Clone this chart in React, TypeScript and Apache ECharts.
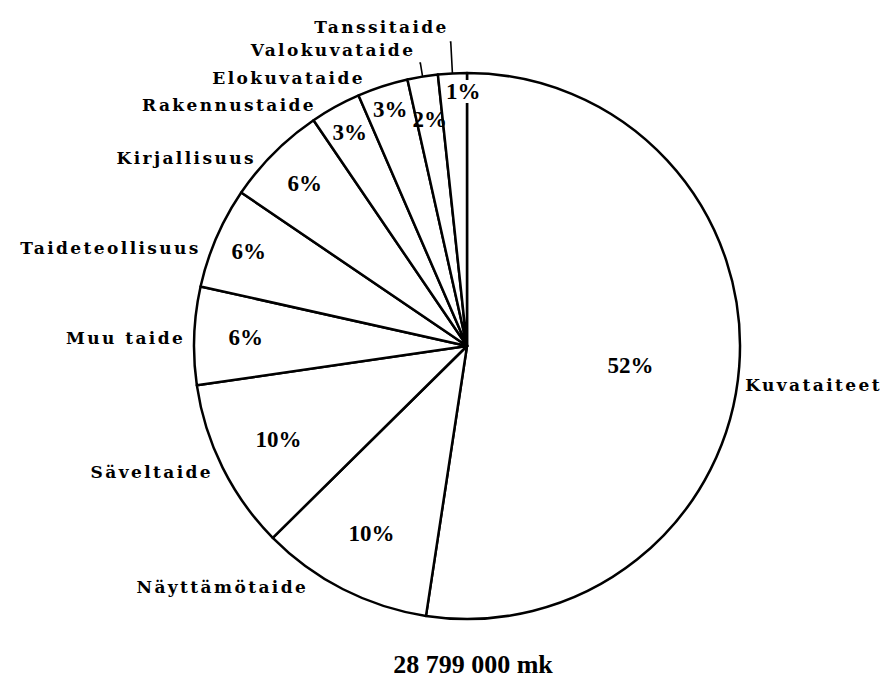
import React, { useEffect, useRef } from "react";
import * as echarts from "echarts";

// ---- data ----
const categories = [
  "Kuvataiteet",
  "Näyttämötaide",
  "Säveltaide",
  "Muu taide",
  "Taideteollisuus",
  "Kirjallisuus",
  "Rakennustaide",
  "Elokuvataide",
  "Valokuvataide",
  "Tanssitaide",
];
const shares = [52.4, 10.2, 10.1, 5.8, 6.0, 6.0, 3.0, 3.0, 1.8, 1.7];
const percentLabels = ["52%", "10%", "10%", "6%", "6%", "6%", "3%", "3%", "2%", "1%"];
const totalLabel = "28 799 000 mk";

// ---- layout (not data) ----
const CENTER = [467, 346];
const RADIUS = 273;
// radial position of the percentage label (fraction of radius)
const pctRadius = [0.59, 0.76, 0.76, 0.8, 0.86, 0.83, 0.88, 0.9, 0.83, 0.93];
// outside label placement: label-line lengths (line only drawn for two)
const outer = [
  { len: 0, len2: 1, line: false },
  { len: -2.5, len2: 31, line: false },
  { len: 9.8, len2: -4.2, line: false },
  { len: 0, len2: 4, line: false },
  { len: -26, len2: 34.5, line: false },
  { len: -7, len2: 18, line: false },
  { len: 2, len2: 13.5, line: false },
  { len: 8.8, len2: 10, line: false },
  { len: 13.8, len2: 1, line: true },
  { len: 31.4, len2: 1, line: true },
];
// small nudges of labels after the library's layout [dx, dy]
const outerShift: Record<number, number[]> = { 0: [0, 18], 3: [0, 2], 8: [1, -13], 9: [4, -15] };
const pctShift: Record<number, number[]> = { 0: [0, 7], 9: [10, 2] };

const labelFont = {
  fontFamily: "DejaVu Serif",
  fontWeight: "bold" as const,
  fontSize: 17,
  color: "#000",
};
const pctFont = {
  fontFamily: "Liberation Serif",
  fontWeight: "bold" as const,
  fontSize: 23,
  color: "#000",
};

function shifted(params: any, shift?: number[]) {
  if (!shift) return {};
  const r = params.labelRect;
  const a = params.align;
  const x = a === "right" ? r.x + r.width : a === "center" ? r.x + r.width / 2 : r.x;
  const y = r.y + r.height / 2;
  const out: any = { x: x + shift[0], y: y + shift[1] };
  if (params.labelLinePoints) out.labelLinePoints = params.labelLinePoints;
  return out;
}

function buildOption() {
  const mainData = categories.map((name, i) => ({
    name,
    value: shares[i],
    labelLine: {
      show: outer[i].line,
      length: outer[i].len,
      length2: outer[i].len2,
    },
  }));

  const series: any[] = [
    {
      type: "pie",
      center: CENTER,
      radius: [0, RADIUS],
      startAngle: 90,
      clockwise: true,
      avoidLabelOverlap: false,
      silent: true,
      emphasis: { disabled: true },
      itemStyle: { color: "#fff", borderColor: "#000", borderWidth: 2.5 },
      label: {
        show: true,
        position: "outside",
        overflow: "none",
        formatter: "{b}",
        distanceToLabelLine: 5,
        ...labelFont,
      },
      labelLine: {
        lineStyle: { color: "#000", width: 1.6 },
        minTurnAngle: 0,
      },
      labelLayout: (p: any) => ({ hideOverlap: false, ...shifted(p, outerShift[p.dataIndex]) }),
      data: mainData,
    },
  ];

  const rings = Array.from(new Set(pctRadius));
  rings.forEach((ratio) => {
    const r0 = RADIUS * (2 * ratio - 1);
    series.push({
      type: "pie",
      center: CENTER,
      radius: [r0, RADIUS],
      startAngle: 90,
      clockwise: true,
      silent: true,
      avoidLabelOverlap: false,
      emphasis: { disabled: true },
      itemStyle: { color: "rgba(0,0,0,0)", borderWidth: 0 },
      labelLine: { show: false },
      label: {
        position: "inside",
        overflow: "none",
        ...pctFont,
      },
      labelLayout: (p: any) => ({ hideOverlap: false, ...shifted(p, pctShift[p.dataIndex]) }),
      data: categories.map((name, i) => ({
        name,
        value: shares[i],
        label: {
          show: pctRadius[i] === ratio,
          formatter: percentLabels[i],
          backgroundColor: i === 9 ? "#fff" : "transparent",
        },
      })),
    });
  });

  return {
    animation: false,
    backgroundColor: "#fff",
    title: {
      text: totalLabel,
      left: 468,
      top: 646,
      textAlign: "center",
      textStyle: {
        fontFamily: "Liberation Serif",
        fontWeight: "bold",
        fontSize: 26,
        color: "#000",
      },
    },
    series,
  };
}

export default function App() {
  const ref = useRef<HTMLDivElement>(null);
  useEffect(() => {
    if (!ref.current) return;
    const chart = echarts.init(ref.current, undefined, { renderer: "svg" });
    chart.setOption(buildOption() as any);
    return () => chart.dispose();
  }, []);
  return (
    <>
      <style>{`.pie-chart text[style*="DejaVu"] { letter-spacing: 2.4px; }`}</style>
      <div
        ref={ref}
        className="pie-chart"
        style={{ position: "absolute", left: 0, top: 0, width: 889, height: 677, background: "#fff" }}
      />
    </>
  );
}
